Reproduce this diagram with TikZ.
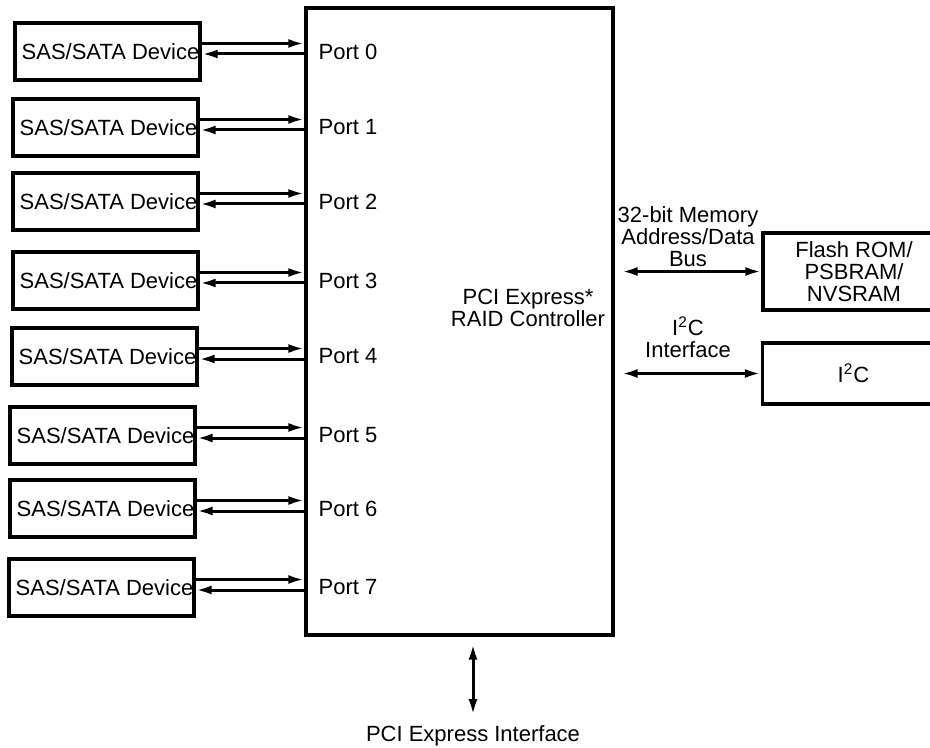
\documentclass[tikz,border=0pt]{standalone}
\usepackage{fontspec}
\setmainfont{Liberation Sans}
\usepackage{tikz}
\usepackage{xcolor}
\usetikzlibrary{arrows.meta,positioning}
\tikzset{
    dev-box/.style = {draw, line width=1.7pt, rectangle, minimum width=92.5pt, minimum height=28.5pt, inner sep=0pt},
    ctrl-box/.style = {draw, line width=1.7pt, rectangle, minimum width=153.5pt, minimum height=313.5pt, inner sep=0pt},
    side-box/.style = {draw, line width=1.7pt, rectangle, minimum width=91pt, inner sep=0pt, align=center},
    port-label/.style = {anchor=west, inner sep=0pt, xshift=7pt},
    plain-text/.style = {inner sep=0pt, align=center},
    bus-arrow/.style = {line width=1.5pt, -{Latex[length=8pt,width=4.5pt]}},
    bus-both/.style = {line width=1.5pt, {Latex[length=8pt,width=4.5pt]}-{Latex[length=8pt,width=4.5pt]}},
}

\begin{document}
\begin{tikzpicture}[x=0.5pt, y=-0.5pt, font=\fontsize{11}{11}\selectfont]
\clip (0,0) rectangle (930,748);
\node [ctrl-box] (ctrl) at (459.5,321.5) {};
\node [plain-text] (ctrl-label) at (528,308) {PCI Express*\\RAID Controller};
\foreach \i/\l/\t in {0/15/23, 1/13/99, 2/13/173, 3/13/252, 4/12/328, 5/10/407, 6/10/480, 7/9/559} {
    \node [dev-box] (dev\i) at ({\l+92.5},{\t+28.5}) {\hspace*{3pt}SAS/SATA Device};
    \node [port-label] (port\i) at (ctrl.west |- dev\i.east) {Port \i};
    \draw [bus-arrow] ([yshift=4pt]dev\i.east) -- ([yshift=4pt]dev\i.east -| ctrl.west);
    \draw [bus-arrow] ([yshift=-1.25pt]dev\i.east -| ctrl.west) -- ([yshift=-1.25pt]dev\i.east);
}
\node [side-box, minimum height=38.5pt] (flash) at (854,271.5) {Flash ROM/\\PSBRAM/\\NVSRAM};
\node [side-box, minimum height=30.5pt] (i2c) at (853.5,373.5) {I\textsuperscript{2}C};
\draw [bus-both] ([xshift=3.5pt]ctrl.east |- flash.west) -- (flash.west);
\draw [bus-both] ([xshift=3.5pt]ctrl.east |- i2c.west) -- (i2c.west);
\node [plain-text] (mem-label) at (688,237) {32-bit Memory\\Address/Data\\Bus};
\node [plain-text] (i2c-label) at (688,337) {I\textsuperscript{2}C\\Interface};
\node [plain-text] (pcie) at (473,736) {PCI Express Interface};
\coordinate (pcie-top) at (473,715);
\draw [bus-both] ([yshift=-3.5pt]ctrl.south -| pcie-top) -- (pcie-top);
\end{tikzpicture}
\end{document}
